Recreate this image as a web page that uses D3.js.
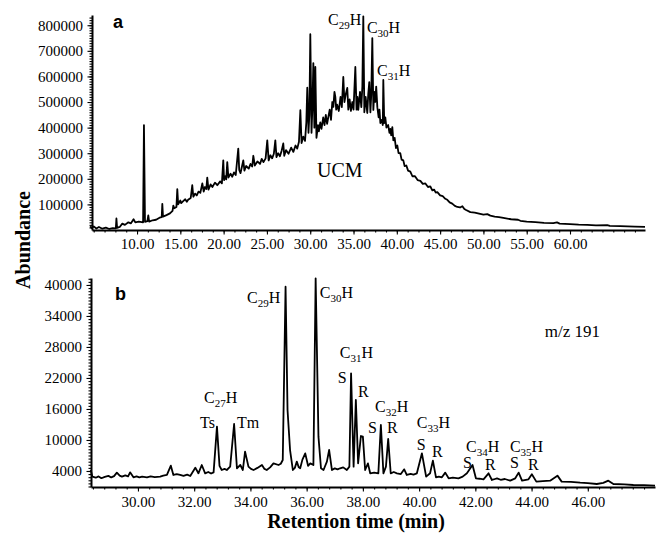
<!DOCTYPE html>
<html><head><meta charset="utf-8">
<script src="https://cdn.jsdelivr.net/npm/d3@7"></script>
<style>body{margin:0;background:#fff} svg{display:block}</style>
</head><body><svg id="c" width="656" height="534"></svg>
<script>
// ---------- Panel a: total ion chromatogram ----------
const timeA = [4.60,4.75,5.00,5.30,5.60,6.00,6.40,6.80,7.20,7.55,7.62,7.70,8.00,8.30,8.60,9.00,9.30,9.60,9.80,10.20,10.70,10.80,10.92,11.20,11.30,11.40,11.80,12.20,12.60,12.85,12.92,13.00,13.40,13.80,14.10,14.19,14.30,14.55,14.65,14.75,15.00,15.10,15.30,15.57,15.75,15.90,16.20,16.38,16.50,16.70,16.90,17.10,17.31,17.54,17.70,17.85,18.00,18.11,18.25,18.50,18.70,19.00,19.27,19.60,19.80,19.96,20.05,20.20,20.30,20.42,20.55,20.80,21.00,21.20,21.40,21.69,21.80,21.95,22.10,22.27,22.40,22.60,22.90,23.10,23.30,23.43,23.60,23.90,24.20,24.40,24.60,24.85,25.04,25.20,25.40,25.60,25.80,25.97,26.10,26.30,26.50,26.70,26.89,27.00,27.20,27.50,27.80,28.05,28.30,28.50,28.70,28.86,29.00,29.20,29.40,29.55,29.66,29.80,29.90,30.01,30.15,30.25,30.36,30.48,30.59,30.72,30.90,31.00,31.16,31.30,31.50,31.65,31.80,31.95,32.09,32.25,32.40,32.55,32.67,32.80,32.90,33.00,33.10,33.30,33.50,33.65,33.82,33.95,34.10,34.28,34.40,34.55,34.70,34.86,35.00,35.21,35.35,35.45,35.55,35.75,35.90,36.02,36.13,36.25,36.40,36.59,36.70,36.82,36.95,37.05,37.17,37.29,37.40,37.50,37.62,37.75,37.90,38.00,38.10,38.25,38.38,38.44,38.55,38.67,38.80,39.00,39.15,39.25,39.35,39.48,39.60,39.75,39.90,40.06,40.20,40.40,40.55,40.75,40.90,41.10,41.30,41.56,41.80,42.10,42.40,42.72,43.00,43.30,43.60,43.87,44.10,44.30,44.50,44.68,45.00,45.30,45.60,45.83,46.10,46.40,46.70,46.99,47.30,47.57,47.80,48.00,48.49,49.00,49.50,50.00,50.45,50.80,51.30,51.80,52.30,53.20,54.00,54.27,55.00,56.00,57.00,58.08,58.50,58.80,60.00,61.00,62.00,63.00,64.30,64.60,65.81,67.50,68.66];
const abundA = [15000,8000,14000,6000,12000,5000,9000,4000,7000,6000,45000,8000,12000,25000,20000,30000,26000,42000,30000,33000,30000,410000,32000,35000,57000,33000,38000,40000,48000,50000,102000,52000,58000,65000,75000,95000,85000,90000,160000,100000,115000,105000,112000,120000,110000,118000,125000,175000,130000,142000,135000,150000,145000,182000,150000,168000,160000,205000,158000,178000,168000,185000,175000,190000,182000,272000,195000,210000,198000,265000,205000,220000,208000,225000,215000,318000,235000,222000,245000,272000,232000,250000,240000,258000,248000,290000,252000,268000,258000,278000,265000,280000,350000,272000,292000,280000,298000,350000,285000,300000,288000,310000,338000,290000,312000,298000,322000,305000,330000,318000,345000,468000,340000,365000,348000,420000,556000,380000,450000,765000,380000,480000,652000,400000,637000,360000,410000,385000,420000,395000,440000,410000,450000,415000,441000,470000,430000,500000,481000,540000,520000,470000,490000,465000,520000,480000,598000,500000,530000,555000,470000,510000,465000,500000,470000,637000,470000,520000,469000,540000,480000,560000,835000,460000,520000,457000,530000,578000,460000,530000,750000,469000,540000,500000,560000,480000,440000,470000,418000,430000,410000,586000,418000,440000,400000,410000,380000,395000,370000,402000,350000,360000,320000,330000,300000,300000,275000,272000,250000,252000,232000,228000,210000,210000,195000,192000,180000,182000,168000,170000,155000,158000,146000,148000,135000,132000,122000,118000,108000,103000,94000,90000,88000,93000,82000,78000,70000,68000,64000,60000,62000,56000,52000,50000,47000,42000,40000,36000,33000,31000,28000,27000,30000,25000,23000,21000,20000,18000,19000,16000,15000,13000,12000];
const yTicksA = [100000,200000,300000,400000,500000,600000,700000,800000];
const xTicksA = [10,15,20,25,30,35,40,45,50,55,60];
const peakLabelsA = [
  {pre:"C", sub:"29", post:"H", t:32.05, v:801000},
  {pre:"C", sub:"30", post:"H", t:36.55, v:769700},
  {pre:"C", sub:"31", post:"H", t:37.71, v:601700}
];
const textLabelsA = [{text:"UCM", t:30.78, v:207000}];

// ---------- Panel b: m/z 191 ----------
const timeB = [28.32,28.38,28.50,28.60,28.70,28.82,28.95,29.05,29.15,29.25,29.35,29.43,29.55,29.65,29.72,29.84,29.95,30.05,30.15,30.32,30.45,30.60,30.79,30.90,31.03,31.17,31.26,31.38,31.50,31.62,31.75,31.86,32.04,32.15,32.27,32.39,32.50,32.60,32.69,32.81,32.90,32.98,33.08,33.16,33.28,33.42,33.52,33.64,33.73,33.81,33.93,34.02,34.11,34.25,34.41,34.50,34.58,34.70,34.82,35.00,35.08,35.15,35.25,35.32,35.41,35.51,35.58,35.65,35.72,35.77,35.85,35.95,36.05,36.13,36.24,36.32,36.42,36.51,36.60,36.72,36.80,36.90,37.00,37.10,37.19,37.30,37.43,37.52,37.58,37.67,37.75,37.83,37.93,38.00,38.08,38.18,38.26,38.40,38.55,38.64,38.73,38.82,38.90,38.99,39.10,39.21,39.35,39.47,39.56,39.70,39.80,39.92,40.10,40.25,40.39,40.49,40.60,40.70,40.81,40.93,41.05,41.20,41.40,41.55,41.70,41.90,42.02,42.15,42.29,42.47,42.59,42.70,42.77,42.90,43.05,43.24,43.42,43.54,43.66,43.80,43.89,44.01,44.17,44.40,44.66,44.92,45.07,45.40,45.73,46.00,46.32,46.55,46.73,46.91,47.30,47.62,48.00,48.39];
const abundB = [4190,2900,2700,2950,2600,2850,3050,2750,3000,3680,3100,2900,3150,2950,3740,2770,2950,2750,2900,2770,2950,2800,2900,3100,3230,5030,3230,3400,3230,3050,3300,3030,4640,3550,5160,3550,3800,3500,3740,12580,5000,4190,4400,4190,4840,13090,4520,5160,4190,7740,4840,4400,4190,4600,5160,4400,4190,4700,5480,5160,5400,6130,39670,15800,8060,4190,4600,5810,4700,4520,6200,7400,5000,5480,5160,41280,10640,4520,4190,5810,8060,4190,4500,4300,4520,4700,4190,4840,22900,4840,17740,5480,10770,10640,4190,5480,3550,3700,3550,12900,3550,4840,10190,3550,3800,3550,3400,4320,3230,3450,3300,3550,7420,2900,3550,6000,2770,2900,2770,3680,2580,2700,2580,2900,3550,5160,2580,2500,2390,3550,2260,2450,2580,2300,2450,2130,2580,3680,2130,2300,2390,3360,1940,2050,2130,3100,1940,1900,1740,1650,1480,1700,2130,1480,1400,1290,1250,1160];
const yTicksB = [4000,10000,16000,22000,28000,34000,40000];
const xTicksB = [30,32,34,36,38,40,42,44,46];
const peakLabelsB = [
  {pre:"C", sub:"29", post:"H", t:33.88, v:36510},
  {pre:"C", sub:"30", post:"H", t:36.47, v:37480},
  {pre:"C", sub:"27", post:"H", t:32.35, v:17160},
  {pre:"C", sub:"31", post:"H", t:37.18, v:25870},
  {pre:"C", sub:"32", post:"H", t:38.43, v:15420},
  {pre:"C", sub:"33", post:"H", t:39.92, v:12320},
  {pre:"C", sub:"34", post:"H", t:41.67, v:7670},
  {pre:"C", sub:"35", post:"H", t:43.23, v:7670}
];
const textLabelsB = [
  {text:"m/z 191", t:44.47, v:29930, size:17},
  {text:"Ts", t:32.21, v:12320}, {text:"Tm", t:33.52, v:12320},
  {text:"S", t:37.11, v:21030}, {text:"R", t:37.83, v:18320},
  {text:"S", t:38.18, v:11350}, {text:"R", t:38.86, v:11350},
  {text:"S", t:39.92, v:8060}, {text:"R", t:40.46, v:6710},
  {text:"S", t:41.56, v:4580}, {text:"R", t:42.34, v:4190},
  {text:"S", t:43.23, v:4580}, {text:"R", t:43.87, v:4190}
];

const svg = d3.select("#c");
const SERIF = "'Liberation Serif','Times New Roman',serif";

function panel(cfg){
  const g = svg.append("g");
  const x = d3.scaleLinear().domain(cfg.xd).range(cfg.xr);
  const y = d3.scaleLinear().domain(cfg.yd).range(cfg.yr);
  g.append("g").attr("transform",`translate(0,${cfg.yr[0]})`)
    .call(d3.axisBottom(x).tickValues(cfg.xMinor).tickSize(2.5).tickFormat(""))
    .call(a=>a.select(".domain").remove());
  g.append("g").attr("transform",`translate(${cfg.xr[0]},0)`)
    .call(d3.axisLeft(y).tickValues(cfg.yMinor).tickSize(2.5).tickFormat(""))
    .call(a=>a.select(".domain").remove());
  const xa = g.append("g").attr("transform",`translate(0,${cfg.yr[0]})`)
    .call(d3.axisBottom(x).tickValues(cfg.xTicks).tickSize(4.5).tickSizeOuter(0).tickPadding(cfg.xPad).tickFormat(d3.format(".2f")));
  const ya = g.append("g").attr("transform",`translate(${cfg.xr[0]},0)`)
    .call(d3.axisLeft(y).tickValues(cfg.yTicks).tickSize(4.5).tickSizeOuter(0).tickPadding(4.5).tickFormat(d3.format("d")));
  [xa,ya].forEach(a=>{
    a.selectAll("text").attr("font-family",SERIF).attr("font-size",15).attr("fill","#000");
    a.select(".domain").attr("stroke","#000").attr("stroke-width",2);
  });
  g.selectAll(".tick line").attr("stroke","#000").attr("stroke-width",1.1);
  const pts = cfg.t.map((t,i)=>[t,cfg.v[i]]);
  g.append("path").datum(pts)
    .attr("d", d3.line().x(d=>x(d[0])).y(d=>y(d[1])))
    .attr("fill","none").attr("stroke","#000").attr("stroke-width",cfg.sw).attr("stroke-linejoin","round");
  cfg.peaks.forEach(p=>{
    const tx = g.append("text").attr("x",x(p.t)).attr("y",y(p.v))
      .attr("font-family",SERIF).attr("font-size",16).attr("fill","#000");
    tx.append("tspan").text(p.pre);
    tx.append("tspan").attr("font-size",11).attr("dy",4).text(p.sub);
    tx.append("tspan").attr("dy",-4).text(p.post);
  });
  cfg.texts.forEach(p=>{
    g.append("text").attr("x",x(p.t)).attr("y",y(p.v))
      .attr("font-family",SERIF).attr("font-size",p.size||cfg.textSize||16).attr("fill","#000").text(p.text);
  });
  g.append("text").attr("x",cfg.letter[0]).attr("y",cfg.letter[1])
    .attr("font-family","'Liberation Sans',Arial,sans-serif").attr("font-weight","bold")
    .attr("font-size",18).text(cfg.letterText);
  return {x,y};
}

panel({
  xd:[4.8,68.66], xr:[92,645], yd:[0,840000], yr:[230,15],
  xTicks:xTicksA, yTicks:yTicksA,
  xMinor:d3.range(5,68.6,1.25), yMinor:d3.range(10000,840000,10000),
  xPad:4, t:timeA, v:abundA, sw:1.8,
  peaks:peakLabelsA, texts:textLabelsA, textSize:20,
  letter:[113,28], letterText:"a"
});
panel({
  xd:[28.33,48.39], xr:[91,655], yd:[900,41350], yr:[487,278],
  xTicks:xTicksB, yTicks:yTicksB,
  xMinor:d3.range(28.4,48.39,0.4), yMinor:d3.range(1000,41350,600),
  xPad:5, t:timeB, v:abundB, sw:1.8,
  peaks:peakLabelsB, texts:textLabelsB, textSize:16,
  letter:[115,300], letterText:"b"
});

svg.append("text").attr("transform","translate(30,240) rotate(-90)")
  .attr("text-anchor","middle").attr("font-family",SERIF).attr("font-weight","bold")
  .attr("font-size",20).text("Abundance");
svg.append("text").attr("x",356).attr("y",528)
  .attr("text-anchor","middle").attr("font-family",SERIF).attr("font-weight","bold")
  .attr("font-size",20).text("Retention time (min)");
</script></body></html>
